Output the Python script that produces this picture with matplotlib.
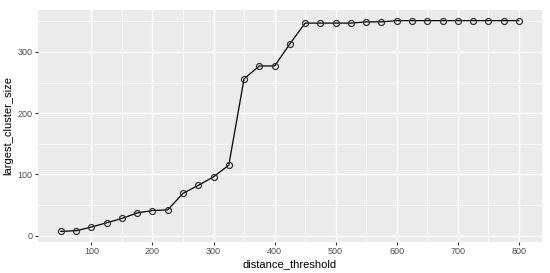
import matplotlib
matplotlib.use("Agg")
import matplotlib.pyplot as plt
import numpy as np

distance_threshold = [50, 75, 100, 125, 150, 175, 200, 225, 250, 275, 300, 325, 350, 375, 400,
                      425, 450, 475, 500, 525, 550, 575, 600, 625, 650, 675, 700, 725, 750, 775, 800]
largest_cluster_size = [7, 8, 14, 21, 28, 37, 41, 42, 69, 82, 96, 115, 256, 277, 277,
                        313, 347, 347, 347, 347, 349, 349, 351, 351, 351, 351, 351, 351, 351, 351, 351]
x_ticks = [100, 200, 300, 400, 500, 600, 700, 800]
y_ticks = [0, 100, 200, 300]

plt.rcParams['font.family'] = ['Liberation Sans', 'DejaVu Sans']
fig = plt.figure(figsize=(5.5, 2.73), dpi=100)
ax = fig.add_axes([0.069, 0.114, 0.916, 0.849])
ax.set_facecolor('#EBEBEB')

ax.plot(distance_threshold, largest_cluster_size, color='black', lw=0.9, zorder=3)
ax.plot(distance_threshold, largest_cluster_size, ls='none', marker='o', ms=4.3,
        mfc='none', mec='#333333', mew=0.9, zorder=4)

ax.set_xlim(12.5, 837.5)
ax.set_ylim(-10.2, 368.2)
ax.set_xticks(x_ticks)
ax.set_yticks(y_ticks)
ax.set_xticks([150, 250, 350, 450, 550, 650, 750], minor=True)
ax.set_yticks([50, 150, 250, 350], minor=True)
ax.grid(which='major', color='white', lw=1.0)
ax.grid(which='minor', color='white', lw=0.5)
ax.set_axisbelow(True)
for s in ax.spines.values():
    s.set_visible(False)
ax.tick_params(which='major', length=2.5, color='#333333', labelsize=6.5, labelcolor='#4D4D4D', pad=1.5)
ax.tick_params(which='minor', length=0)
ax.set_xlabel('distance_threshold', fontsize=8, labelpad=2)
ax.set_ylabel('largest_cluster_size', fontsize=8, labelpad=3)

fig.savefig('out.png', dpi=100)
